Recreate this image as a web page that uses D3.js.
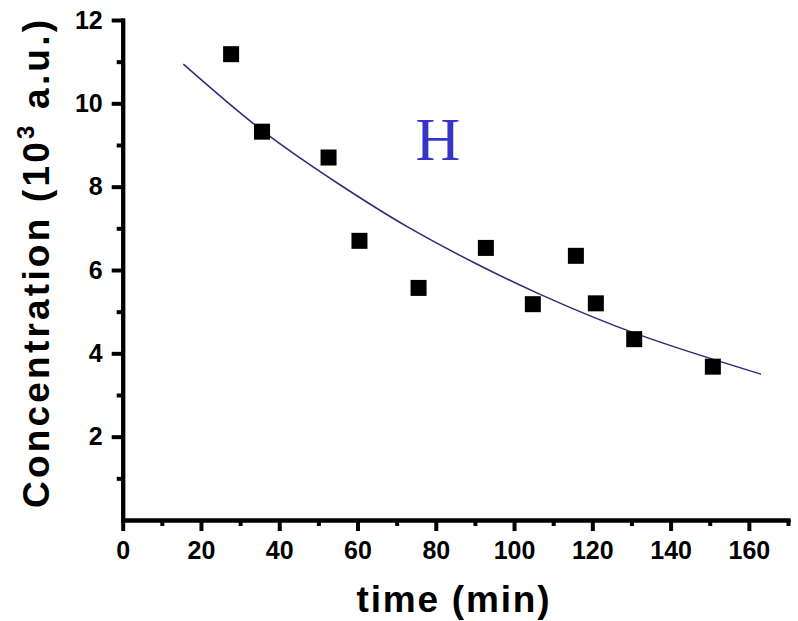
<!DOCTYPE html>
<meta charset="utf-8">
<body style="margin:0;background:#fff">
<script src="https://d3js.org/d3.v7.min.js"></script>
<script>
var width = 798,
    height = 621;

// measured points
var timeMin = [27.7, 35.6, 52.6, 60.5, 75.6, 92.8, 104.8, 115.8, 120.9, 130.7, 150.8];
var conc = [11.18, 9.32, 8.70, 6.70, 5.57, 6.53, 5.18, 6.34, 5.20, 4.34, 3.68];

// fitted curve
var fitTime = [15.5, 35.6, 55.6, 72.7, 89.7, 106.8, 132.4, 163.1];
var fitConc = [10.94, 9.35, 8.04, 7.04, 6.18, 5.41, 4.43, 3.50];

var xMajor = [0, 20, 40, 60, 80, 100, 120, 140, 160];
var xMinor = [10, 30, 50, 70, 90, 110, 130, 150, 170];
var yMajor = [2, 4, 6, 8, 10, 12];
var yMinor = [1, 3, 5, 7, 9, 11];

var svg = d3.select("body").append("svg")
    .attr("width", width)
    .attr("height", height)
    .style("display", "block");

var x = d3.scaleLinear().domain([0, 170]).range([122.7, 788]);
var y = d3.scaleLinear().domain([0, 12]).range([520, 20]);

function styleAxis(g) {
  g.select(".domain").style("stroke-width", "4px").style("stroke-linecap", "square").style("stroke", "#000");
  g.selectAll(".tick line").style("stroke-width", "4px").style("stroke", "#000");
  g.selectAll("text")
      .attr("font-family", "'Liberation Sans', Arial, sans-serif")
      .attr("font-weight", "bold")
      .attr("font-size", 25)
      .attr("fill", "#000");
}

svg.append("g")
    .attr("transform", "translate(0,520)")
    .call(d3.axisBottom(x).tickValues(xMinor).tickSize(6).tickSizeOuter(0).tickFormat(""))
    .call(styleAxis);
svg.append("g")
    .attr("transform", "translate(0,520)")
    .call(d3.axisBottom(x).tickValues(xMajor).tickSize(11).tickSizeOuter(0).tickPadding(10))
    .call(styleAxis);

svg.append("g")
    .attr("transform", "translate(122.7,0)")
    .call(d3.axisLeft(y).tickValues(yMinor).tickSize(6).tickSizeOuter(0).tickFormat(""))
    .call(styleAxis);
svg.append("g")
    .attr("transform", "translate(122.7,0)")
    .call(d3.axisLeft(y).tickValues(yMajor).tickSize(11).tickSizeOuter(0).tickPadding(9))
    .call(styleAxis);

var fit = fitTime.map(function(t, i) { return [t, fitConc[i]]; });
svg.append("path")
    .datum(fit)
    .attr("fill", "none")
    .attr("stroke", "#2b2b7d")
    .attr("stroke-width", 1.5)
    .attr("d", d3.line()
        .x(function(d) { return x(d[0]); })
        .y(function(d) { return y(d[1]); })
        .curve(d3.curveNatural));

var s = 16;
svg.append("g").selectAll("rect")
    .data(timeMin)
    .join("rect")
    .attr("x", function(d) { return x(d) - s / 2; })
    .attr("y", function(d, i) { return y(conc[i]) - s / 2; })
    .attr("width", s)
    .attr("height", s)
    .attr("fill", "#000");

svg.append("text")
    .attr("x", 438)
    .attr("y", 160)
    .attr("text-anchor", "middle")
    .attr("font-family", "'Liberation Serif', 'Times New Roman', serif")
    .attr("font-size", 62)
    .attr("fill", "#3535c8")
    .text("H");

svg.append("text")
    .attr("x", 453)
    .attr("y", 612)
    .attr("text-anchor", "middle")
    .attr("font-family", "'Liberation Sans', Arial, sans-serif")
    .attr("font-weight", "bold")
    .attr("font-size", 37)
    .attr("textLength", 193)
    .attr("lengthAdjust", "spacing")
    .text("time (min)");

var yt = svg.append("text")
    .attr("transform", "translate(49,264) rotate(-90)")
    .attr("text-anchor", "middle")
    .attr("font-family", "'Liberation Sans', Arial, sans-serif")
    .attr("font-weight", "bold")
    .attr("font-size", 37)
    .attr("textLength", 488)
    .attr("lengthAdjust", "spacing");
yt.append("tspan").text("Concentration (10");
yt.append("tspan").attr("dy", -15).attr("font-size", 24).text("3");
yt.append("tspan").attr("dy", 15).text(" a.u.)");
</script>
</html>
